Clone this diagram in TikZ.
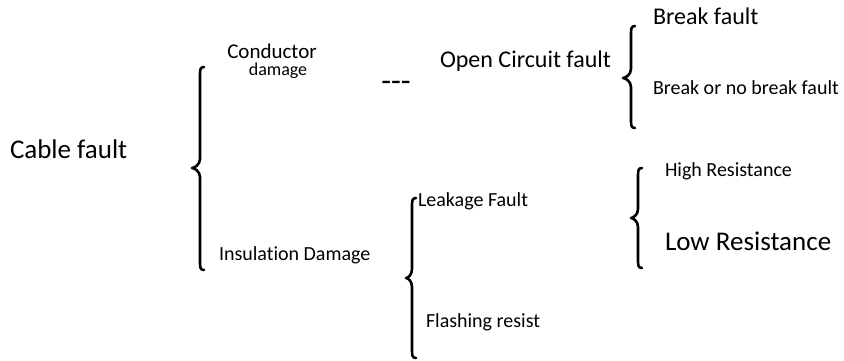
\documentclass[tikz,border=0pt]{standalone}
\usepackage{fontspec}
\setmainfont{Carlito}[Ligatures={TeX,NoCommon}]
\newcommand\mybrace[5]{% stem x, tip x, top y, mid y, bottom y
  \draw[bracestyle] (#1+4,#3) .. controls (#1,#3) and (#1,#3+3) .. (#1,#3+9) -- (#1,#4-9)
    .. controls (#1,#4-3) and (#2+2,#4) .. (#2,#4)
    .. controls (#2+2,#4) and (#1,#4+3) .. (#1,#4+9) -- (#1,#5-9)
    .. controls (#1,#5-3) and (#1,#5) .. (#1+4,#5);}
\tikzset{
  bracestyle/.style={line width=2.6pt, line cap=round, line join=round},
  lbl/.style={anchor=base west, inner sep=0pt, outer sep=0pt},
  fA/.style={font=\fontsize{27}{27}\selectfont},
  fB/.style={font=\fontsize{24}{24}\selectfont},
  fC/.style={font=\fontsize{20}{20}\selectfont},
}
\begin{document}
\begin{tikzpicture}[x=1pt,y=-1pt]
\useasboundingbox (0,0) rectangle (844,361);
\node[lbl,fA] (cable) at (10,158) {Cable fault};
\node[inner sep=0pt, anchor=north, align=center, font=\fontsize{18}{17}\selectfont] (cond) at (272,44)
  {{\fontsize{21}{17}\selectfont Conductor}\\\hspace*{12pt}damage};
\node[inner sep=0pt,font=\fontsize{32}{32}\selectfont] (dash) at (396,86) {-{}-{}-};
\node[lbl,fB] (open) at (440,67) {Open Circuit fault};
\node[lbl,fB] (brk) at (653,25) {Break fault};
\node[lbl,fC] (brkno) at (653,95) {Break or no break fault};
\node[lbl,fC] (ins) at (219,260) {Insulation Damage};
\node[lbl,fC] (leak) at (418,206) {Leakage Fault};
\node[lbl,fC] (flash) at (426,327) {Flashing resist};
\node[lbl,fC] (high) at (665,176) {High Resistance};
\node[lbl,fA] (low) at (665,250) {Low Resistance};
\mybrace{200}{192}{67}{168}{270}
\mybrace{631}{623}{26}{78}{128}
\mybrace{412}{406}{198}{278}{358}
\mybrace{638}{631}{168}{218}{268}
\end{tikzpicture}
\end{document}
